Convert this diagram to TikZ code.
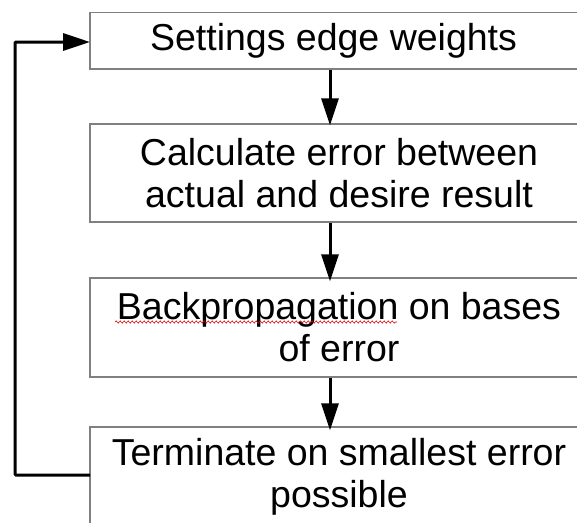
\documentclass[tikz,border=0pt]{standalone}
\usepackage{fontspec}
\setmainfont{Liberation Sans}
\usetikzlibrary{arrows.meta,decorations.pathmorphing}

\tikzset{
  stepbox/.style={draw=black!50, line width=1.3pt, rectangle, inner sep=0pt,
    minimum width=498pt, align=center, text=black,
    font=\fontsize{37.5pt}{42pt}\selectfont},
  flow/.style={line width=3pt, black,
    -{Triangle[length=27pt,width=17pt]}},
  loopline/.style={flow, rounded corners=1pt},
  spellmark/.style={draw=red!85!black, line width=0.6pt,
    decorate, decoration={snake, segment length=4pt, amplitude=1.1pt}}
}

\begin{document}
\begin{tikzpicture}[x=1pt, y=-1pt]
  \useasboundingbox (0,0) rectangle (577,522);
  \clip (0,0) rectangle (577,522);

  % process boxes (the column runs past the right edge)
  \node[stepbox, minimum height=56.5pt] (weights) at (339,40.75)
    {Settings edge weights\hspace*{11pt}};
  \node[stepbox, minimum height=98pt] (calc) at (339,173)
    {Calculate error between\\actual and desire result};
  \node[stepbox, minimum height=99pt] (backprop) at (339,327.5)
    {Backpropagation on bases\\of error};
  \node[stepbox, minimum height=100pt] (stop) at (339,477)
    {Terminate on smallest error\\possible};

  % spell-check underline below "Backpropagation"
  \coordinate (sqA) at (115,322);
  \coordinate (sqB) at (397,322);
  \draw[spellmark] (sqA) -- (sqB);

  % downward arrows
  \coordinate (col) at (330,0);
  \draw[flow] (weights.south -| col) -- ([yshift=-2pt]calc.north -| col);
  \draw[flow] (calc.south -| col) -- ([yshift=-4pt]backprop.north -| col);
  \draw[flow] (backprop.south -| col) -- ([yshift=-4pt]stop.north -| col);

  % feedback loop back to the first step
  \coordinate (back) at (15,0);
  \coordinate (loopOut) at (90,475);
  \coordinate (loopIn) at (90,42);
  \draw[loopline] (loopOut) -- (loopOut -| back) -- (loopIn -| back) -- (loopIn);
\end{tikzpicture}
\end{document}
